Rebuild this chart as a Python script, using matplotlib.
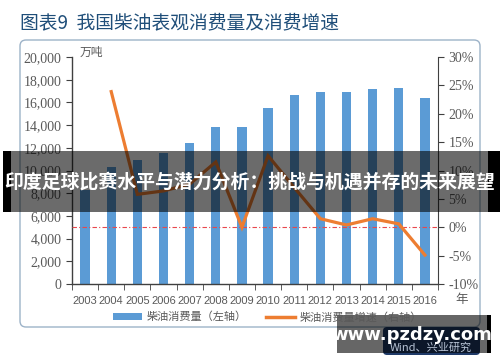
import matplotlib
matplotlib.use("Agg")
import matplotlib.pyplot as plt
from matplotlib.patches import Rectangle, FancyBboxPatch
from matplotlib.lines import Line2D
from matplotlib.ticker import FuncFormatter, FixedLocator

plt.rcParams['font.family'] = ['Noto Sans CJK SC', 'DejaVu Sans']

# data
years = ["2003", "2004", "2005", "2006", "2007", "2008", "2009",
         "2010", "2011", "2012", "2013", "2014", "2015", "2016"]
consumption = [8300, 10330, 10920, 11570, 12400, 13800, 13800,
               15530, 16650, 16890, 16950, 17210, 17270, 16420]   # 万吨
growth = [None, 23.9, 5.8, 6.4, 7.6, 11.5, 0.0,
          12.6, 7.0, 1.5, 0.4, 1.5, 0.6, -4.9]                    # %

title = "图表9  我国柴油表观消费量及消费增速"
bar_label = "柴油消费量（左轴）"
line_label = "柴油消费量增速（右轴）"
banner = "印度足球比赛水平与潜力分析：挑战与机遇并存的未来展望"
watermark = "www.pzdzy.com"
source = "Wind、兴业研究"

BLUE = "#5B9BD5"
ORANGE = "#ED7D31"
GREY = "#595959"
W, H = 500, 362

fig = plt.figure(figsize=(5, 3.62), dpi=100)
fig.patch.set_facecolor("white")

# page decoration (pixel coordinates)
deco = fig.add_axes([0, 0, 1, 1], zorder=0)
deco.set_xlim(0, W); deco.set_ylim(H, 0); deco.axis("off")
deco.add_patch(FancyBboxPatch((20, 40), 460, 287, boxstyle="round,pad=0,rounding_size=6",
                              fc="white", ec="#9DB3C8", lw=1.0))
deco.text(20, 23, title, color="#1F4E79", fontsize=13.5, va="center", ha="left")

# main chart
x = list(range(len(years)))
ax = fig.add_axes([72 / W, 1 - 284 / H, 366 / W, 227 / H], zorder=1)
ax.patch.set_visible(False)
ax.bar(x, consumption, width=0.36, color=BLUE, zorder=2)
ax.set_xlim(-0.5, len(years) - 0.5)
ax.set_ylim(0, 20000)
ax.set_yticks(range(0, 20001, 2000))
ax.yaxis.set_major_formatter(FuncFormatter(lambda v, p: f"{int(v):,}"))
ax.set_xticks(x)
ax.set_xticklabels(years, family="Liberation Sans", fontsize=8)
ax.xaxis.set_minor_locator(FixedLocator([i - 0.5 for i in range(len(years) + 1)]))
ax.tick_params(axis="x", which="major", length=0, pad=9, colors=GREY)
ax.tick_params(axis="x", which="minor", length=4, direction="out", color="#404040")
ax.tick_params(axis="y", length=4, direction="out", color="#404040", labelcolor=GREY)
for lab in ax.get_yticklabels():
    lab.set_family("Liberation Serif")
    lab.set_fontsize(10)
for s in ["top", "right"]:
    ax.spines[s].set_visible(False)
for s in ["left", "bottom"]:
    ax.spines[s].set_color("#404040")
    ax.spines[s].set_linewidth(1.0)
ax.text(0.022, 1.02, "万吨", transform=ax.transAxes, color=GREY, fontsize=8.5,
        ha="left", va="center", style="italic")
ax.text(1.065, -0.07, "年", transform=ax.transAxes, color=GREY, fontsize=9,
        ha="center", va="center")

ax2 = ax.twinx()
ax2.set_ylim(-10, 30)
ax2.set_yticks(range(-10, 31, 5))
ax2.yaxis.set_major_formatter(FuncFormatter(lambda v, p: f"{int(v)}%"))
ax2.tick_params(axis="y", length=4, direction="out", color="#404040", labelcolor=GREY)
for lab in ax2.get_yticklabels():
    lab.set_family("Liberation Serif")
    lab.set_fontsize(10)
for s in ["top", "left", "bottom"]:
    ax2.spines[s].set_visible(False)
ax2.spines["right"].set_color("#404040")
ax2.axhline(0, color="#E8474C", lw=0.8, ls=(0, (4, 2, 1, 2)), zorder=1)
gx = [i for i, g in zip(x, growth) if g is not None]
gy = [g for g in growth if g is not None]
ax2.plot(gx, gy, color=ORANGE, lw=2.3, solid_joinstyle="miter", zorder=3)

handles = [Rectangle((0, 0), 1, 1, fc=BLUE, ec="none"),
           Line2D([], [], color=ORANGE, lw=2.5)]
fig.legend(handles, [bar_label, line_label], ncol=2, loc="center",
           bbox_to_anchor=(0.535, 1 - 317 / H), frameon=False, fontsize=8,
           labelcolor=GREY, handlelength=2.6, handleheight=0.5, columnspacing=1.8,
           handletextpad=0.4)

# overlays on top of the chart
top = fig.add_axes([0, 0, 1, 1], zorder=5)
top.set_xlim(0, W); top.set_ylim(H, 0); top.axis("off")
top.add_patch(Rectangle((3, 151), 497, 61, fc="black", alpha=0.58, ec="none"))
top.add_patch(Rectangle((3, 151), 8, 61, fc="black", ec="none"))
top.add_patch(Rectangle((488, 151), 12, 61, fc="black", ec="none"))
top.text(250, 182, banner, color="white", fontsize=13.6, fontweight="bold",
         ha="center", va="center")
top.add_patch(FancyBboxPatch((383, 327), 97, 28, boxstyle="round,pad=0,rounding_size=4",
                             fc="#1F3A68", ec="none"))
top.text(431, 348, source, color="#B8C4D6", fontsize=8, ha="center", va="center")
top.add_patch(Rectangle((337, 315), 150, 38, fc="black", alpha=0.6, ec="none"))
top.add_patch(Rectangle((487, 315), 4, 38, fc="black", ec="none"))
top.text(412, 335, watermark, color="white", fontsize=13, fontweight="bold",
         ha="center", va="center", family="DejaVu Sans")

fig.savefig("out.png", dpi=100)
